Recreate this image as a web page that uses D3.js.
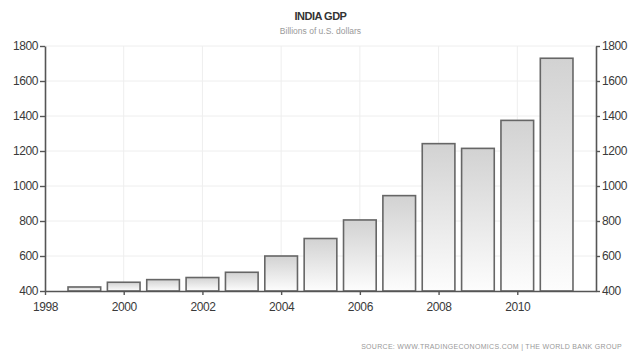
<!DOCTYPE html>
<html>
<head>
<meta charset="utf-8">
<script src="https://cdn.jsdelivr.net/npm/d3@7"></script>
<style>
  html, body { margin: 0; padding: 0; background: #fff; }
  svg { display: block; }
</style>
</head>
<body>
<svg id="chart" width="628" height="354"></svg>
<script>
const years = [1999, 2000, 2001, 2002, 2003, 2004, 2005, 2006, 2007, 2008, 2009, 2010, 2011];
const gdp = [423, 450, 465, 477, 507, 600, 700, 806, 945, 1242, 1215, 1375, 1730];
const yTicks = [400, 600, 800, 1000, 1200, 1400, 1600, 1800];
const xTicks = [1998, 2000, 2002, 2004, 2006, 2008, 2010];
const title = "INDIA GDP";
const subtitle = "Billions of u.S. dollars";
const source = "SOURCE: WWW.TRADINGECONOMICS.COM  |  THE WORLD BANK GROUP";

(function () {
const svg = d3.select("#chart");
const mLeft = 45, mRight = 596, mTop = 46, mBottom = 291;

const x = d3.scaleLinear().domain([1998, 2012]).range([mLeft, mRight]);
const y = d3.scaleLinear().domain([400, 1800]).range([mBottom, mTop]);
const barW = (x(1) - x(0)) * 0.83;

const defs = svg.append("defs");
const grad = defs.append("linearGradient").attr("id", "barGrad")
  .attr("x1", 0).attr("y1", 0).attr("x2", 0).attr("y2", 1);
grad.append("stop").attr("offset", "0%").attr("stop-color", "#d2d2d2");
grad.append("stop").attr("offset", "100%").attr("stop-color", "#fdfdfd");

// grid
svg.append("g").selectAll("line").data(yTicks.slice(1)).join("line")
  .attr("x1", mLeft).attr("x2", mRight)
  .attr("y1", d => y(d)).attr("y2", d => y(d))
  .attr("stroke", "#eeeeee").attr("stroke-width", 1);
svg.append("g").selectAll("line").data(xTicks.slice(1)).join("line")
  .attr("x1", d => x(d)).attr("x2", d => x(d))
  .attr("y1", mTop).attr("y2", mBottom)
  .attr("stroke", "#eeeeee").attr("stroke-width", 1);

// bars
svg.append("g").selectAll("rect").data(years).join("rect")
  .attr("x", (d) => x(d) - barW / 2)
  .attr("width", barW)
  .attr("y", (d, i) => y(gdp[i]))
  .attr("height", (d, i) => mBottom - y(gdp[i]))
  .attr("fill", "url(#barGrad)")
  .attr("stroke", "#666")
  .attr("stroke-width", 1.6);

const tickFont = "'Liberation Sans', Arial, sans-serif";
const fmt = d3.format("d");

const gL = svg.append("g").attr("transform", `translate(${mLeft},0)`)
  .call(d3.axisLeft(y).tickValues(yTicks).tickFormat(fmt).tickSize(5).tickPadding(2).tickSizeOuter(0));
const gR = svg.append("g").attr("transform", `translate(${mRight},0)`)
  .call(d3.axisRight(y).tickValues(yTicks).tickFormat(fmt).tickSize(4).tickPadding(2).tickSizeOuter(0));
const gB = svg.append("g").attr("transform", `translate(0,${mBottom})`)
  .call(d3.axisBottom(x).tickValues(xTicks).tickFormat(fmt).tickSize(4).tickPadding(7).tickSizeOuter(0));

[gL, gR, gB].forEach(g => {
  g.select(".domain").attr("stroke", "#555").attr("stroke-width", 1.6);
  g.selectAll(".tick line").attr("stroke", "#555").attr("stroke-width", 1.4);
  g.selectAll(".tick text").attr("fill", "#3a3a3a")
    .style("font-family", tickFont).style("font-size", "12px")
    .style("letter-spacing", "-0.4px");
});

svg.append("text").attr("x", (mLeft + mRight) / 2).attr("y", 20)
  .attr("text-anchor", "middle")
  .style("font-family", tickFont).style("font-size", "11px").style("font-weight", "bold")
  .style("letter-spacing", "-0.5px")
  .attr("fill", "#333").text(title);
svg.append("text").attr("x", (mLeft + mRight) / 2).attr("y", 34)
  .attr("text-anchor", "middle")
  .style("font-family", tickFont).style("font-size", "8.5px")
  .attr("fill", "#999").text(subtitle);
svg.append("text").attr("x", 622).attr("y", 349)
  .attr("text-anchor", "end")
  .style("font-family", tickFont).style("font-size", "7px")
  .style("letter-spacing", "0.3px")
  .attr("fill", "#999").text(source);
})();
</script>
</body>
</html>
